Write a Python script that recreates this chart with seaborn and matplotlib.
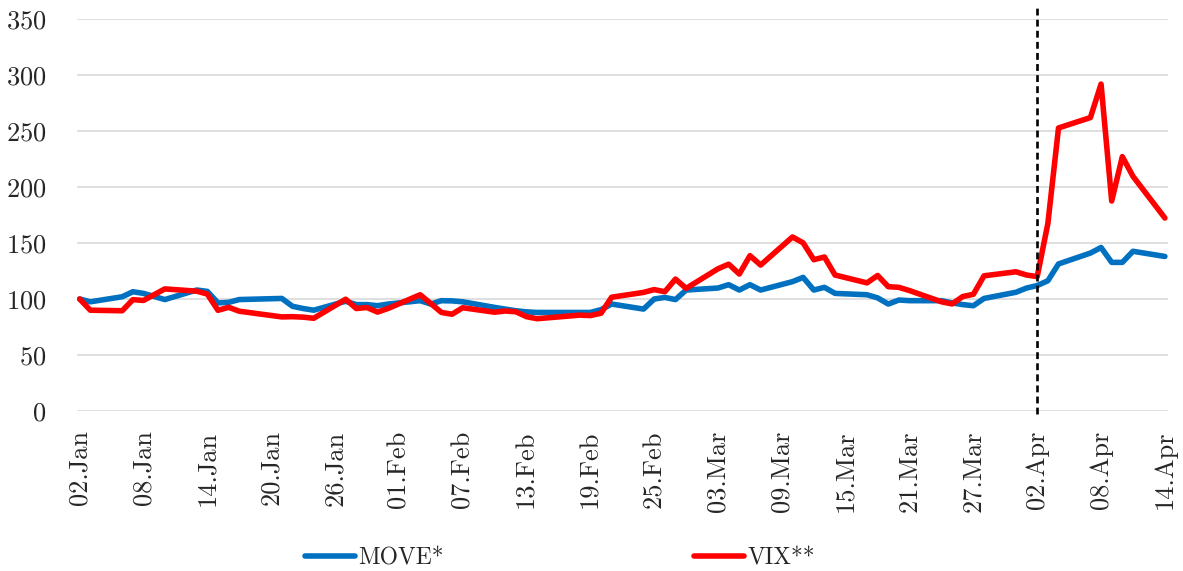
import matplotlib
matplotlib.use("Agg")
import matplotlib.pyplot as plt
import matplotlib.dates as mdates
import seaborn as sns
import pandas as pd

# ---- data (indexed, 02 Jan = 100) ----
dates = [
    "2025-01-02", "2025-01-03", "2025-01-06", "2025-01-07", "2025-01-08", "2025-01-10",
    "2025-01-13", "2025-01-14", "2025-01-15", "2025-01-16", "2025-01-17", "2025-01-21",
    "2025-01-22", "2025-01-23", "2025-01-24", "2025-01-27", "2025-01-28", "2025-01-29",
    "2025-01-30", "2025-01-31",
    "2025-02-03", "2025-02-04", "2025-02-05", "2025-02-06", "2025-02-07", "2025-02-10",
    "2025-02-11", "2025-02-12", "2025-02-13", "2025-02-14", "2025-02-18", "2025-02-19",
    "2025-02-20", "2025-02-21", "2025-02-24", "2025-02-25", "2025-02-26", "2025-02-27",
    "2025-02-28",
    "2025-03-03", "2025-03-04", "2025-03-05", "2025-03-06", "2025-03-07", "2025-03-10",
    "2025-03-11", "2025-03-12", "2025-03-13", "2025-03-14", "2025-03-17", "2025-03-18",
    "2025-03-19", "2025-03-20", "2025-03-21", "2025-03-24", "2025-03-25", "2025-03-26",
    "2025-03-27", "2025-03-28", "2025-03-31",
    "2025-04-01", "2025-04-02", "2025-04-03", "2025-04-04", "2025-04-07", "2025-04-08",
    "2025-04-09", "2025-04-10", "2025-04-11", "2025-04-14",
]

move = [
    100.0, 97.5, 102.0, 106.5, 105.0, 99.5, 108.0, 106.8, 96.5, 97.0, 99.5, 100.5,
    93.5, 91.5, 90.0, 98.0, 95.0, 95.0, 94.0, 95.5,
    98.5, 95.5, 98.5, 98.3, 97.5, 92.5, 91.0, 89.5, 88.5, 88.0, 88.0, 88.0,
    90.5, 95.5, 91.0, 100.0, 101.4, 99.5, 108.0,
    109.8, 112.8, 108.0, 112.8, 108.0, 115.5, 119.3, 108.0, 110.4, 105.0, 103.8, 101.0,
    95.5, 99.1, 98.5, 98.5, 96.5, 95.0, 94.0, 100.5, 106.0,
    109.8, 112.0, 116.3, 131.3, 141.0, 146.0, 132.7, 132.7, 142.6, 138.0,
]

vix = [
    100.0, 90.0, 89.5, 99.4, 98.7, 109.0, 107.0, 104.4, 89.9, 92.6, 89.1, 84.0,
    84.2, 83.8, 82.8, 99.8, 91.5, 92.4, 88.3, 91.6,
    103.8, 96.0, 88.0, 86.4, 92.2, 88.2, 89.3, 88.6, 84.2, 82.4, 85.6, 85.2,
    87.3, 101.6, 105.9, 108.4, 106.5, 117.8, 109.5,
    127.0, 131.1, 122.3, 138.7, 130.3, 155.4, 150.1, 135.1, 137.5, 121.4, 114.4, 121.0,
    111.0, 110.4, 107.5, 97.5, 95.6, 102.2, 104.2, 120.7, 124.3,
    121.4, 120.0, 167.4, 252.7, 262.0, 291.9, 187.5, 227.1, 209.5, 172.3,
]

series_names = ["MOVE*", "VIX**"]
series_colors = ["#0070C0", "#FF0000"]
event_date = "2025-04-02"
first_tick, last_tick = "2025-01-02", "2025-04-14"
y_ticks = [0, 50, 100, 150, 200, 250, 300, 350]

# ---- style ----
sns.set_style("white")
plt.rcParams["font.family"] = ["cmr10", "DejaVu Serif"]
plt.rcParams["axes.formatter.use_mathtext"] = True

df = pd.DataFrame({"date": pd.to_datetime(dates), series_names[0]: move, series_names[1]: vix})
long_df = df.melt(id_vars="date", var_name="series", value_name="value")

W, H = 1183, 571
fig = plt.figure(figsize=(W / 100, H / 100), dpi=100)
ax = fig.add_axes([77 / W, 1 - 411 / H, (1168 - 77) / W, (411 - 19) / H])

ax.yaxis.grid(True, color="#D9D9D9", lw=1.2)
ax.xaxis.grid(False)
ax.set_axisbelow(True)

sns.lineplot(
    data=long_df, x="date", y="value", hue="series", hue_order=series_names,
    palette=dict(zip(series_names, series_colors)), lw=4.0, ax=ax, legend=False,
    solid_joinstyle="round", solid_capstyle="round",
)
handles = list(ax.lines[:2])

ax.axvline(pd.Timestamp(event_date), ymin=-0.008, ymax=1.03, color="black",
           lw=1.9, ls=(0, (2.6, 1.6)), clip_on=False, zorder=5)

ax.set_ylim(0, 350)
ax.set_yticks(y_ticks)
ax.set_xlim(pd.Timestamp(first_tick) - pd.Timedelta(hours=6),
            pd.Timestamp(last_tick) + pd.Timedelta(hours=7))
ax.set_xticks(pd.date_range(first_tick, last_tick, freq="6D"))
ax.xaxis.set_major_formatter(mdates.DateFormatter("%d.%b"))
for lab in ax.get_xticklabels():
    lab.set_rotation(90)
ax.tick_params(axis="x", length=0, pad=14, labelsize=19)
ax.tick_params(axis="y", length=0, pad=22, labelsize=19)
ax.set_xlabel("")
ax.set_ylabel("")
sns.despine(ax=ax, left=True, bottom=True)

leg_y = 1 - 558 / H
fig.legend([handles[0]], [series_names[0]], loc="center left",
           bbox_to_anchor=(305 / W, leg_y), frameon=False, fontsize=17,
           handlelength=2.1, handletextpad=0.15, borderpad=0, borderaxespad=0)
fig.legend([handles[1]], [series_names[1]], loc="center left",
           bbox_to_anchor=(694 / W, leg_y), frameon=False, fontsize=17,
           handlelength=2.1, handletextpad=0.15, borderpad=0, borderaxespad=0)

fig.savefig("out.png", dpi=100)
